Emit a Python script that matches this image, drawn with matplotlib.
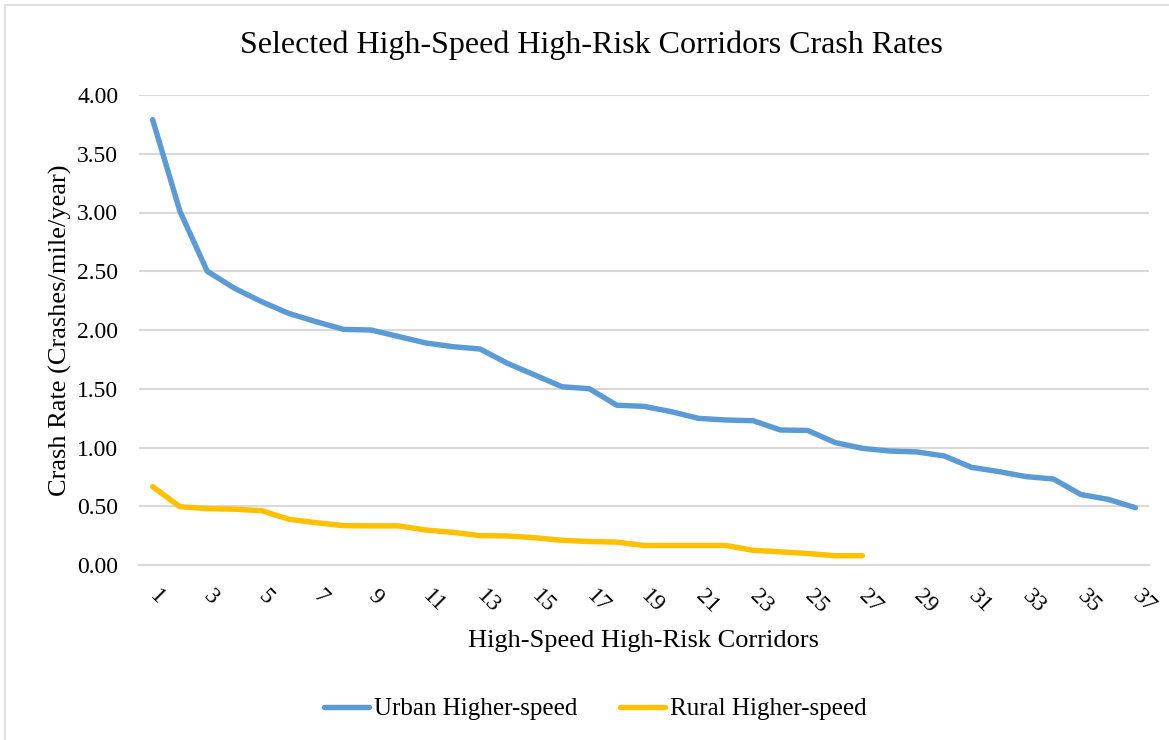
import matplotlib
matplotlib.use('Agg')
import matplotlib.pyplot as plt
from matplotlib.patches import Rectangle
plt.rcParams['font.family'] = 'serif'
plt.rcParams['font.serif'] = ['Liberation Serif', 'DejaVu Serif']

# corridor crash rates (crashes/mile/year)
urban = [3.79, 3.01, 2.50, 2.355, 2.24, 2.14, 2.07, 2.005, 2.00, 1.945,
         1.89, 1.858, 1.838, 1.716, 1.617, 1.517, 1.50, 1.36, 1.35, 1.305,
         1.248, 1.234, 1.228, 1.149, 1.145, 1.042, 0.993, 0.97, 0.962, 0.928,
         0.831, 0.795, 0.752, 0.732, 0.60, 0.559, 0.488]
rural = [0.667, 0.496, 0.48, 0.475, 0.462, 0.389, 0.36, 0.335, 0.333, 0.333,
         0.298, 0.278, 0.25, 0.247, 0.232, 0.21, 0.20, 0.195, 0.166, 0.166,
         0.166, 0.166, 0.125, 0.112, 0.098, 0.079, 0.079]
urban_x = list(range(1, len(urban) + 1))
rural_x = list(range(1, len(rural) + 1))
yticks = [0, 0.5, 1.0, 1.5, 2.0, 2.5, 3.0, 3.5, 4.0]
xticks = list(range(1, 38, 2))

blue = '#5B9BD5'
gold = '#FFC000'

fig = plt.figure(figsize=(11.69, 7.4), dpi=100)
ax = fig.add_axes([139/1169, 1-565/740, (1149-139)/1169, (565-95)/740])

# outer chart border like the Excel frame
fig.patches.append(Rectangle((5/1169, -0.1), 1.2, 1-5/740+0.1, transform=fig.transFigure,
                             fill=False, edgecolor='#D9D9D9', linewidth=1.2))

ax.plot(urban_x, urban, color=blue, linewidth=3.9, solid_capstyle='round',
        solid_joinstyle='round', label='Urban Higher-speed')
ax.plot(rural_x, rural, color=gold, linewidth=3.9, solid_capstyle='round',
        solid_joinstyle='round', label='Rural Higher-speed')

ax.set_xlim(0.5, 37.5)
ax.set_ylim(0, 4)
ax.set_yticks(yticks)
ax.set_yticklabels([f'{v:.2f}' for v in yticks], fontsize=17)
ax.set_xticks(xticks)
ax.set_xticklabels([str(v) for v in xticks], fontsize=17, rotation=-45,
                   rotation_mode='anchor', ha='left', va='center')
ax.tick_params(axis='both', length=0)
ax.tick_params(axis='y', pad=15)
ax.tick_params(axis='x', pad=20)
ax.grid(axis='y', color='#D9D9D9', linewidth=1.5)
ax.set_axisbelow(True)
for s in ['top', 'right', 'left']:
    ax.spines[s].set_visible(False)
ax.spines['bottom'].set_color('#D9D9D9')
ax.spines['bottom'].set_linewidth(1.5)

fig.text(591/1169, 1-45/740, 'Selected High-Speed High-Risk Corridors Crash Rates',
         ha='center', va='center', fontsize=23)
ax.set_xlabel('High-Speed High-Risk Corridors', fontsize=19)
ax.xaxis.set_label_coords((644-139)/1010, -(641-565)/470)
ax.set_ylabel('Crash Rate (Crashes/mile/year)', fontsize=19)
ax.yaxis.set_label_coords(-(139-60)/1010, (565-330)/470)
ax.yaxis.label.set_va('center')
ax.xaxis.label.set_va('center')

fig.legend(loc='center', bbox_to_anchor=(595/1169, 1-709/740), ncol=2, frameon=False,
           fontsize=18, handlelength=1.8, columnspacing=1.7, handletextpad=0.2)

fig.savefig('out.png', dpi=100)
